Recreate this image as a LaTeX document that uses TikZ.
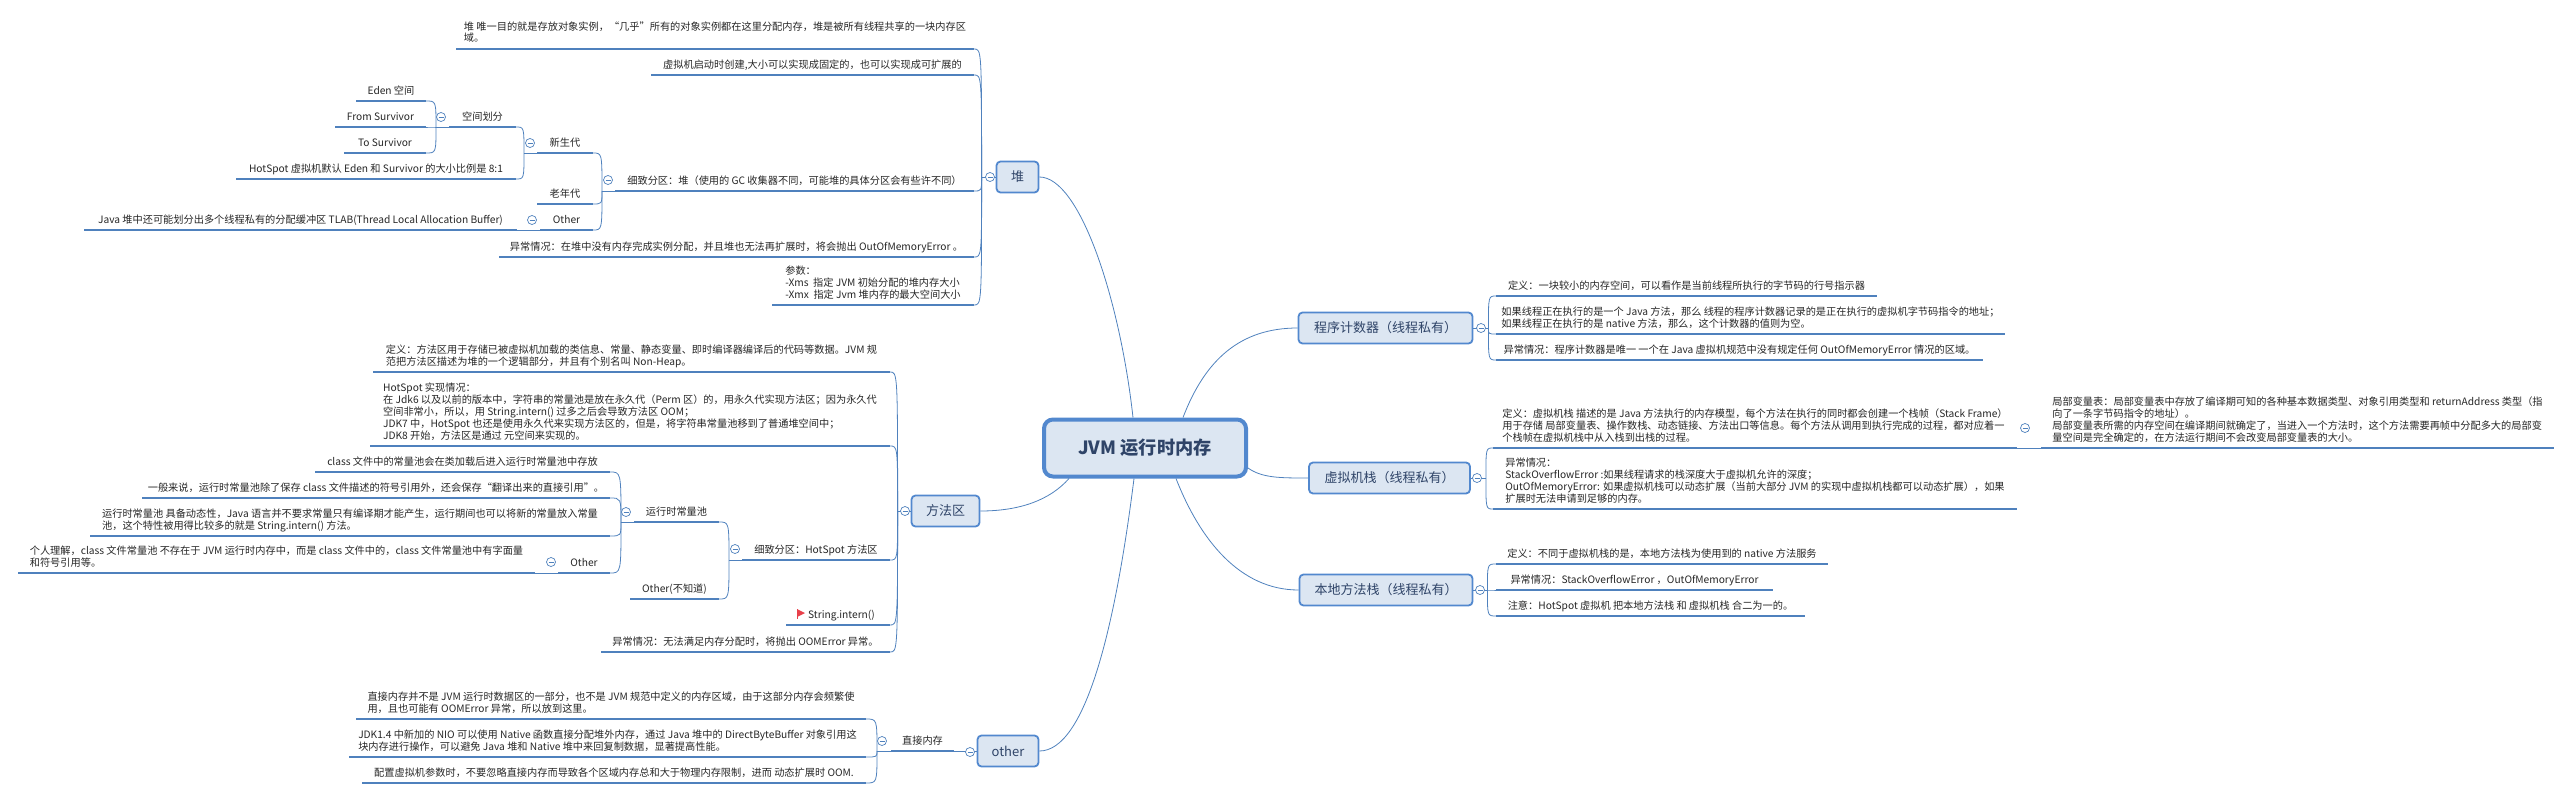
\documentclass[tikz,border=0pt]{standalone}
\usepackage{fontspec}
\setmainfont{Noto Sans CJK SC}
\usetikzlibrary{positioning}
\usetikzlibrary{calc}

\definecolor{mapblue}{HTML}{4F81BD}
\definecolor{mainblue}{HTML}{5288CE}
\definecolor{boxfill}{HTML}{DCE6F2}
\definecolor{boxtext}{HTML}{2F4468}
\definecolor{flagred}{HTML}{E8404A}

\tikzset{
    link/.style={draw=mapblue, line width=0.8pt},
    under/.style={draw=mapblue, line width=2.6pt},
    topic/.style={inner xsep=0pt, inner ysep=4pt, outer sep=0pt, align=left, text=black!85,
        text depth=3pt, font=\fontsize{10.2}{12}\selectfont,
        append after command={(\tikzlastnode.south west) edge[under] (\tikzlastnode.south east)}},
    topicL/.style={topic, anchor=south east},
    topicR/.style={topic, anchor=south west},
    branch/.style={draw=mainblue, fill=boxfill, line width=1.8pt, rounded corners=4pt, text=boxtext,
        font=\fontsize{13}{15}\selectfont, inner sep=0pt, minimum height=31pt},
    centre/.style={draw=mainblue, fill=boxfill, line width=4pt, rounded corners=9pt, text=boxtext,
        font=\fontsize{18.2}{22}\selectfont\bfseries, inner sep=0pt, minimum width=202pt, minimum height=57pt},
    toggle/.style={draw=mapblue, fill=white, circle, line width=0.7pt, minimum size=9pt, inner sep=0pt,
        path picture={\draw[mapblue, line width=0.6pt] ([xshift=-2.5pt]path picture bounding box.center) -- ([xshift=2.5pt]path picture bounding box.center);}},
}

\newcommand{\kidsleft}[2]{\foreach \kid in {#2} \draw[link] (#1) .. controls (#1 |- \kid.south east) .. (\kid.south east);}
\newcommand{\kidsright}[2]{\foreach \kid in {#2} \draw[link] (#1) .. controls (#1 |- \kid.south west) .. (\kid.south west);}

\begin{document}
\begin{tikzpicture}[x=1pt, y=-1pt]
    \useasboundingbox (0,0) rectangle (2572,800);

    \node[centre] (main) at (1145,448) {JVM 运行时内存};

    \node[branch, minimum width=42pt] (heap) at (1017.5,177) {堆};
    \node[branch, minimum width=68pt] (method) at (945.5,511) {方法区};
    \node[branch, minimum width=61pt] (other) at (1008,751) {other};
    \node[branch, minimum width=174pt] (pc) at (1385.5,328) {程序计数器（线程私有）};
    \node[branch, minimum width=161pt] (stack) at (1389.5,478) {虚拟机栈（线程私有）};
    \node[branch, minimum width=173pt] (native) at (1386,590) {本地方法栈（线程私有）};

    \node[topicL, minimum width=518pt] (heapA) at (974,49) {堆 唯一目的就是存放对象实例，“几乎”所有的对象实例都在这里分配内存，堆是被所有线程共享的一块内存区\\域。};
    \node[topicL, minimum width=323pt] (heapB) at (974,75) {虚拟机启动时创建,大小可以实现成固定的，也可以实现成可扩展的};
    \node[topicL, minimum width=359pt] (heapDetail) at (974,191) {细致分区：堆（使用的 GC 收集器不同，可能堆的具体分区会有些许不同）};
    \node[topicL, minimum width=475pt] (heapErr) at (974,257) {异常情况：在堆中没有内存完成实例分配，并且堆也无法再扩展时，将会抛出 OutOfMemoryError 。};
    \node[topicL, minimum width=202pt] (heapArgs) at (974,305) {参数：\\-Xms\ \ 指定 JVM 初始分配的堆内存大小\\-Xmx\ \ 指定 Jvm 堆内存的最大空间大小};
    \node[topicL, minimum width=56pt] (young) at (593,153) {新生代};
    \node[topicL, minimum width=56pt] (old) at (593,204) {老年代};
    \node[topicL, minimum width=53pt] (heapOther) at (593,230) {Other};
    \node[topicL, minimum width=433pt] (tlab) at (517,230) {Java 堆中还可能划分出多个线程私有的分配缓冲区 TLAB(Thread Local Allocation Buffer)};
    \node[topicL, minimum width=67pt] (space) at (516,127) {空间划分};
    \node[topicL, minimum width=280pt] (ratio) at (516,179) {HotSpot 虚拟机默认 Eden 和 Survivor 的大小比例是 8:1};
    \node[topicL, minimum width=70pt] (eden) at (426,101) {Eden 空间};
    \node[topicL, minimum width=91pt] (from) at (426,127) {From Survivor};
    \node[topicL, minimum width=82pt] (to) at (426,153) {To Survivor};

    \node[topicL, minimum width=517pt] (methodDef) at (890,372) {定义：方法区用于存储已被虚拟机加载的类信息、常量、静态变量、即时编译器编译后的代码等数据。JVM 规\\范把方法区描述为堆的一个逻辑部分，并且有个别名叫 Non-Heap。};
    \node[topicL, minimum width=520pt] (methodImpl) at (890,446) {HotSpot 实现情况：\\在 Jdk6 以及以前的版本中，字符串的常量池是放在永久代（Perm 区）的，用永久代实现方法区；因为永久代\\空间非常小，所以，用 String.intern() 过多之后会导致方法区 OOM；\\JDK7 中，HotSpot 也还是使用永久代来实现方法区的，但是，将字符串常量池移到了普通堆空间中；\\JDK8 开始，方法区是通过 元空间来实现的。};
    \node[topicL, minimum width=148pt] (methodDetail) at (890,560) {细致分区：HotSpot 方法区};
    \node[topicL, minimum width=104pt] (methodIntern) at (890,625) {\hspace*{7pt}String.intern()};
    \node[topicL, minimum width=289pt] (methodErr) at (890,652) {异常情况：无法满足内存分配时，将抛出 OOMError 异常。};
    \node[topicL, minimum width=85pt] (pool) at (719,522) {运行时常量池};
    \node[topicL, minimum width=89pt] (methodOther) at (719,599) {Other(不知道)};
    \node[topicL, minimum width=295pt] (poolA) at (610,472) {class 文件中的常量池会在类加载后进入运行时常量池中存放};
    \node[topicL, minimum width=468pt] (poolB) at (610,498) {一般来说，运行时常量池除了保存 class 文件描述的符号引用外，还会保存“翻译出来的直接引用”。};
    \node[topicL, minimum width=520pt] (poolC) at (610,536) {运行时常量池 具备动态性，Java 语言并不要求常量只有编译期才能产生，运行期间也可以将新的常量放入常量\\池，这个特性被用得比较多的就是 String.intern() 方法。};
    \node[topicL, minimum width=52pt] (poolOther) at (610,573) {Other};
    \node[topicL, minimum width=517pt] (poolNote) at (535,573) {个人理解，class 文件常量池 不存在于 JVM 运行时内存中，而是 class 文件中的，class 文件常量池中有字面量\\和符号引用等。};

    \node[topicL, minimum width=63pt] (direct) at (954,751) {直接内存};
    \node[topicL, minimum width=510pt] (directA) at (866,719) {直接内存并不是 JVM 运行时数据区的一部分，也不是 JVM 规范中定义的内存区域，由于这部分内存会频繁使\\用，且也可能有 OOMError 异常，所以放到这里。};
    \node[topicL, minimum width=517pt] (directB) at (866,757) {JDK1.4 中新加的 NIO 可以使用 Native 函数直接分配堆外内存，通过 Java 堆中的 DirectByteBuffer 对象引用这\\块内存进行操作，可以避免 Java 堆和 Native 堆中来回复制数据，显著提高性能。};
    \node[topicL, minimum width=504pt] (directC) at (866,783) {配置虚拟机参数时，不要忽略直接内存而导致各个区域内存总和大于物理内存限制，进而 动态扩展时 OOM.};

    \node[topicR, minimum width=381pt] (pcA) at (1496,296) {定义：一块较小的内存空间，可以看作是当前线程所执行的字节码的行号指示器};
    \node[topicR, minimum width=509pt] (pcB) at (1496,334) {如果线程正在执行的是一个 Java 方法，那么 线程的程序计数器记录的是正在执行的虚拟机字节码指令的地址；\\如果线程正在执行的是 native 方法，那么，这个计数器的值则为空。};
    \node[topicR, minimum width=487pt] (pcC) at (1496,360) {异常情况：程序计数器是唯一 一个在 Java 虚拟机规范中没有规定任何 OutOfMemoryError 情况的区域。};
    \node[topicR, minimum width=524pt] (stackA) at (1493,448) {定义：虚拟机栈 描述的是 Java 方法执行的内存模型，每个方法在执行的同时都会创建一个栈帧（Stack Frame）\\用于存储 局部变量表、操作数栈、动态链接、方法出口等信息。每个方法从调用到执行完成的过程，都对应着一\\个栈帧在虚拟机栈中从入栈到出栈的过程。};
    \node[topicR, minimum width=524pt] (stackB) at (1493,509) {异常情况：\\StackOverflowError :如果线程请求的栈深度大于虚拟机允许的深度；\\OutOfMemoryError: 如果虚拟机栈可以动态扩展（当前大部分 JVM 的实现中虚拟机栈都可以动态扩展），如果\\扩展时无法申请到足够的内存。};
    \node[topicR, minimum width=513pt] (localVars) at (2041,448) {局部变量表：局部变量表中存放了编译期可知的各种基本数据类型、对象引用类型和 returnAddress 类型（指\\向了一条字节码指令的地址）。\\局部变量表所需的内存空间在编译期间就确定了，当进入一个方法时，这个方法需要再帧中分配多大的局部变\\量空间是完全确定的，在方法运行期间不会改变局部变量表的大小。};
    \node[topicR, minimum width=332pt] (nativeA) at (1496,564) {定义：不同于虚拟机栈的是，本地方法栈为使用到的 native 方法服务};
    \node[topicR, minimum width=277pt] (nativeB) at (1496,590) {异常情况：StackOverflowError ，OutOfMemoryError};
    \node[topicR, minimum width=309pt] (nativeC) at (1496,616) {注意：HotSpot 虚拟机 把本地方法栈 和 虚拟机栈 合二为一的。};

    \fill[flagred] ([xshift=11pt,yshift=16pt]methodIntern.south west) -- ([xshift=19pt,yshift=12pt]methodIntern.south west) -- ([xshift=11pt,yshift=8pt]methodIntern.south west) -- cycle;
    \draw[flagred, line width=0.8pt] ([xshift=11pt,yshift=16pt]methodIntern.south west) -- ([xshift=11pt,yshift=6pt]methodIntern.south west);

    \draw[link] (heap.east) .. controls (1080,177) and (1120,300) .. ([xshift=-12pt]main.north);
    \draw[link] (method.east) .. controls (1020,511) and (1050,500) .. ([xshift=-76pt]main.south);
    \draw[link] (other.east) .. controls (1085,751) and (1115,630) .. ([xshift=-11pt]main.south);
    \draw[link] (pc.west) .. controls (1240,328) and (1205,360) .. ([xshift=38pt]main.north);
    \draw[link] (stack.west) .. controls (1280,478) and (1262,478) .. ([yshift=-20pt]main.east);
    \draw[link] (native.west) .. controls (1240,590) and (1200,540) .. ([xshift=31pt]main.south);

    \coordinate (heapHub) at ([xshift=-14pt]heap.west);
    \coordinate (detailHub) at ([xshift=-13pt]heapDetail.south west);
    \coordinate (youngHub) at ([xshift=-13pt]young.south west);
    \coordinate (spaceHub) at ([xshift=-13pt]space.south west);
    \coordinate (methodHub) at ([xshift=-13pt]method.west);
    \coordinate (methodDetailHub) at ([xshift=-13pt]methodDetail.south west);
    \coordinate (poolHub) at ([xshift=-13pt]pool.south west);
    \coordinate (directHub) at ([xshift=-14pt]direct.south west);
    \coordinate (pcHub) at ([xshift=15pt]pc.east);
    \coordinate (stackHub) at ([xshift=15pt]stack.east);
    \coordinate (nativeHub) at ([xshift=14pt]native.east);

    \draw[link] (heap.west) -- (heapHub);
    \draw[link] (heapDetail.south west) -- (detailHub);
    \draw[link] (young.south west) -- (youngHub);
    \draw[link] (space.south west) -- (spaceHub);
    \draw[link] (method.west) -- (methodHub);
    \draw[link] (methodDetail.south west) -- (methodDetailHub);
    \draw[link] (pool.south west) -- (poolHub);
    \draw[link] (direct.south west) -- (directHub);
    \draw[link] (other.west) -- (direct.south east);
    \draw[link] (heapOther.south west) -- (tlab.south east);
    \draw[link] (poolOther.south west) -- (poolNote.south east);
    \draw[link] (stackA.south east) -- (localVars.south west);
    \draw[link] (pc.east) -- (pcHub);
    \draw[link] (stack.east) -- (stackHub);
    \draw[link] (native.east) -- (nativeHub);

    \kidsleft{heapHub}{heapA,heapB,heapDetail,heapErr,heapArgs}
    \kidsleft{detailHub}{young,old,heapOther}
    \kidsleft{youngHub}{space,ratio}
    \kidsleft{spaceHub}{eden,from,to}
    \kidsleft{methodHub}{methodDef,methodImpl,methodDetail,methodIntern,methodErr}
    \kidsleft{methodDetailHub}{pool,methodOther}
    \kidsleft{poolHub}{poolA,poolB,poolC,poolOther}
    \kidsleft{directHub}{directA,directB,directC}
    \kidsright{pcHub}{pcA,pcB,pcC}
    \kidsright{stackHub}{stackA,stackB}
    \kidsright{nativeHub}{nativeA,nativeB,nativeC}

    \foreach \name/\px/\py in {t1/990/177, t2/608/180, t3/530/143, t4/441/117, t5/532/220, t6/905/511, t7/735/549, t8/626/512, t9/551/562, t10/970/752, t11/882/741, t12/1481/328, t13/1477/478, t14/1480/590, t15/2025/428}
        \node[toggle] (\name) at (\px,\py) {};
\end{tikzpicture}
\end{document}
